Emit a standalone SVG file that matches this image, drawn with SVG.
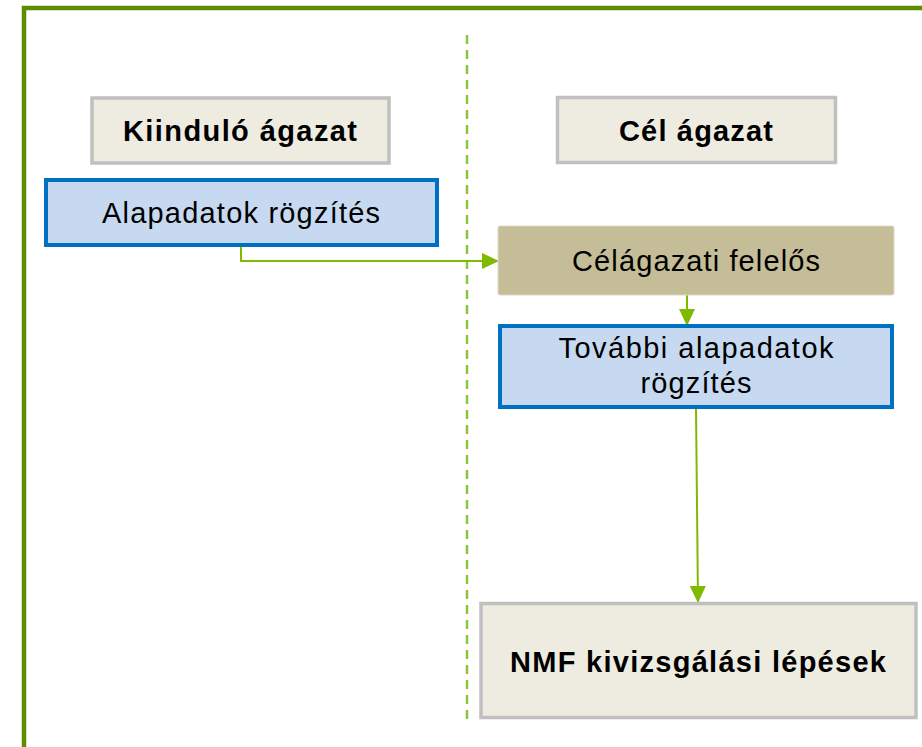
<svg xmlns="http://www.w3.org/2000/svg" width="922" height="747" viewBox="0 0 922 747">
<style>
text{font-family:"Liberation Sans",Arial,sans-serif;font-size:29px;fill:#000;text-anchor:middle}
.b{font-weight:bold}
.hdr{fill:#eeebe0;stroke:#c0c0c0;stroke-width:3.5}
.blue{fill:#c6d9f1;stroke:#0070c0;stroke-width:4}
.tan{fill:#c4bd97;stroke:#ddd9c3;stroke-width:1}
.con{fill:none;stroke:#7fba00;stroke-width:2}
</style>
<defs>
<marker id="ah" markerWidth="17" markerHeight="16" refX="16" refY="8" orient="auto" markerUnits="userSpaceOnUse">
<path d="M0,0 L17,8 L0,16 Z" fill="#7fba00"/>
</marker>
</defs>
<rect x="24" y="8" width="920" height="760" fill="#fff" stroke="#5e8c00" stroke-width="4.5"/>
<line x1="467" y1="35" x2="467" y2="724" stroke="#8cc63f" stroke-width="2.5" stroke-dasharray="9,6"/>
<g id="connectors">
<path class="con" d="M241,245 V261 H498" marker-end="url(#ah)"/>
<path class="con" d="M687,295 V325" marker-end="url(#ah)"/>
<path class="con" d="M696,408 L698,602" marker-end="url(#ah)"/>
</g>
<g id="kiindulo">
<rect class="hdr" x="92" y="98" width="297" height="65"/>
<text class="b" x="240" y="141" textLength="234" lengthAdjust="spacing">Kiinduló ágazat</text>
</g>
<g id="alapadatok">
<rect class="blue" x="46" y="180" width="391" height="65"/>
<text x="241" y="223" textLength="278" lengthAdjust="spacing">Alapadatok rögzítés</text>
</g>
<g id="cel">
<rect class="hdr" x="557.5" y="97.5" width="278" height="65"/>
<text class="b" x="696" y="141" textLength="154" lengthAdjust="spacing">Cél ágazat</text>
</g>
<g id="celagazati">
<rect class="tan" x="498" y="226" width="396" height="69" rx="2"/>
<text x="696" y="271" textLength="248" lengthAdjust="spacing">Célágazati felelős</text>
</g>
<g id="tovabbi">
<rect class="blue" x="500" y="326" width="392" height="81"/>
<text x="696" y="358" textLength="275" lengthAdjust="spacing">További alapadatok</text>
<text x="696" y="393" textLength="111" lengthAdjust="spacing">rögzítés</text>
</g>
<g id="nmf">
<rect class="hdr" x="481" y="603.5" width="435" height="114" stroke-width="4"/>
<text class="b" x="698" y="672" textLength="376" lengthAdjust="spacing">NMF kivizsgálási lépések</text>
</g>
</svg>
